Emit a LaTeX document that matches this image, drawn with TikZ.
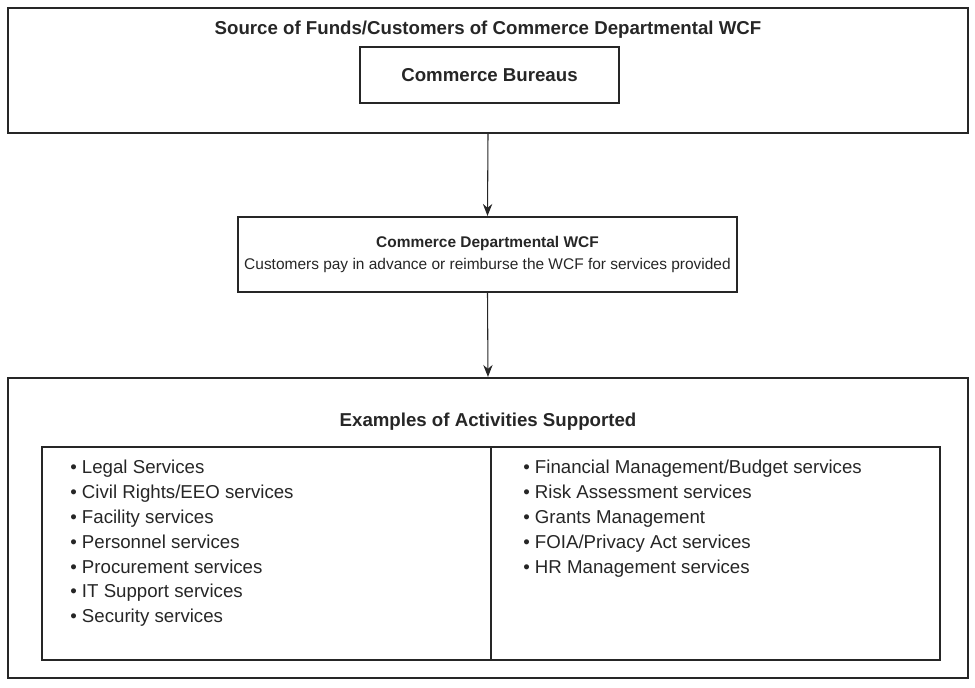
\documentclass[tikz,border=0pt]{standalone}
\usepackage{fontspec}
\setmainfont{Liberation Sans}
\usetikzlibrary{positioning,arrows.meta}
\colorlet{ink}{black!85}
\begin{document}
\begin{tikzpicture}[x=0.75pt,y=-0.75pt,
	every node/.style={font=\fontsize{14}{16}\selectfont,inner sep=0pt,text=ink},
	heavybox/.style={draw=ink,line width=1.6pt},
	lightbox/.style={draw=ink,line width=1pt},
	heading/.style={font=\fontsize{14}{16}\selectfont\bfseries},
	midtext/.style={font=\fontsize{11.6}{13}\selectfont},
	itemlist/.style={align=left,anchor=north west,font=\fontsize{14}{18.6}\selectfont},
	flow/.style={draw=ink,-{Stealth[length=9pt,width=7pt]},line width=0.8pt}]
\useasboundingbox (0,0) rectangle (975,687);
% source of funds
\node[heavybox,minimum width=720pt,minimum height=93.75pt] (funds) at (488,70.5) {};
\node[heading] (fundstitle) at (488,30) {Source of Funds/Customers of Commerce Departmental WCF};
\node[lightbox,heading,minimum width=194.25pt,minimum height=42pt] (bureaus) at (489.5,75) {Commerce Bureaus};
% working capital fund
\node[heavybox,midtext,align=center,minimum width=374.25pt,minimum height=56.25pt] (wcf) at (487.5,254.5)
	{\textbf{Commerce Departmental WCF}\\[3.5pt]Customers pay in advance or reimburse the WCF for services provided};
% activities
\node[heavybox,minimum width=720pt,minimum height=225pt] (activities) at (488,528) {};
\node[heading] (acttitle) at (488,422) {Examples of Activities Supported};
\node[lightbox,minimum width=673.5pt,minimum height=159.75pt] (lists) at (491,553.5) {};
\draw[draw=ink,line width=1pt] (lists.north) -- (lists.south);
\node[itemlist] (leftlist) at (70,460) {%
	\textbullet\ Legal Services\\
	\textbullet\ Civil Rights/EEO services\\
	\textbullet\ Facility services\\
	\textbullet\ Personnel services\\
	\textbullet\ Procurement services\\
	\textbullet\ IT Support services\\
	\textbullet\ Security services};
\node[itemlist] (rightlist) at (523,460) {%
	\textbullet\ Financial Management/Budget services\\
	\textbullet\ Risk Assessment services\\
	\textbullet\ Grants Management\\
	\textbullet\ FOIA/Privacy Act services\\
	\textbullet\ HR Management services};
% connectors
\draw[flow] (funds.south) -- (wcf.north);
\draw[flow] (wcf.south) -- (activities.north);
\end{tikzpicture}
\end{document}
